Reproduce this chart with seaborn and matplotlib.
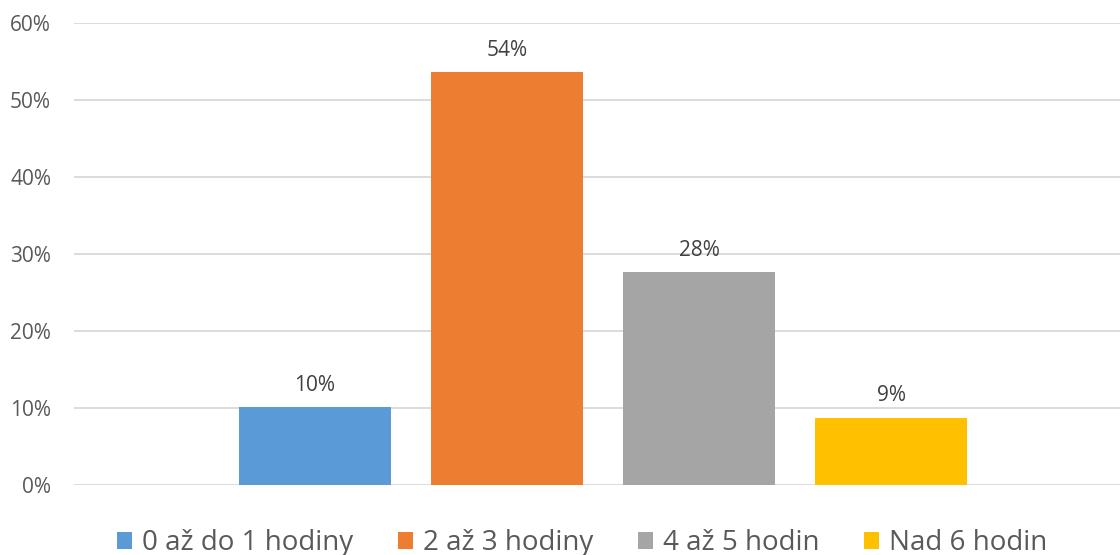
import matplotlib
matplotlib.use("Agg")
import matplotlib.pyplot as plt
import seaborn as sns
import pandas as pd
from matplotlib.patches import Patch
from matplotlib.ticker import PercentFormatter

categories = ["0 až do 1 hodiny", "2 až 3 hodiny", "4 až 5 hodin", "Nad 6 hodin"]
shares = [0.101, 0.536, 0.276, 0.087]
colors = ["#5B9BD5", "#ED7D31", "#A5A5A5", "#FFC000"]
y_ticks = [0.0, 0.1, 0.2, 0.3, 0.4, 0.5, 0.6]

sns.set_theme(style="white")
plt.rcParams["font.family"] = ["Open Sans", "DejaVu Sans"]

df = pd.DataFrame({"group": [""] * len(categories), "series": categories, "share": shares})

fig = plt.figure(figsize=(11.2, 5.55), dpi=100)
ax = fig.add_axes([74 / 1120, (555 - 485) / 555, (1120 - 74) / 1120, (485 - 23) / 555])

sns.barplot(data=df, x="group", y="share", hue="series", hue_order=categories,
            palette=colors, width=0.8, gap=0.208, dodge=True, legend=False,
            saturation=1, edgecolor="none", linewidth=0, ax=ax, zorder=3)

ax.set_xlim(-(603 - 74) / 960, (1120 - 603) / 960)
ax.set_ylim(0, 0.6)
ax.set_yticks(y_ticks)
ax.yaxis.set_major_formatter(PercentFormatter(1.0, decimals=0))
ax.grid(axis="y", color="#D9D9D9", linewidth=1.3, zorder=0)
ax.set_xticks([])
ax.set_xlabel("")
ax.set_ylabel("")
for s in ax.spines.values():
    s.set_visible(False)
ax.tick_params(axis="y", length=0, pad=16.5, labelsize=15, labelcolor="#595959")

for bar in ax.patches:
    h = bar.get_height()
    if h <= 0:
        continue
    ax.annotate(f"{h:.0%}", (bar.get_x() + bar.get_width() / 2, h),
                xytext=(0, 16), textcoords="offset points",
                ha="center", va="center", fontsize=15, color="#404040")

handles = [Patch(facecolor=c, edgecolor="none", label=l) for c, l in zip(colors, categories)]
fig.legend(handles=handles, loc="center", bbox_to_anchor=(0.52, 1 - 543 / 555),
           ncol=4, frameon=False, fontsize=20, labelcolor="#595959",
           handlelength=0.55, handleheight=0.55, handletextpad=0.36, columnspacing=1.6)

fig.savefig("out.png", dpi=100)
